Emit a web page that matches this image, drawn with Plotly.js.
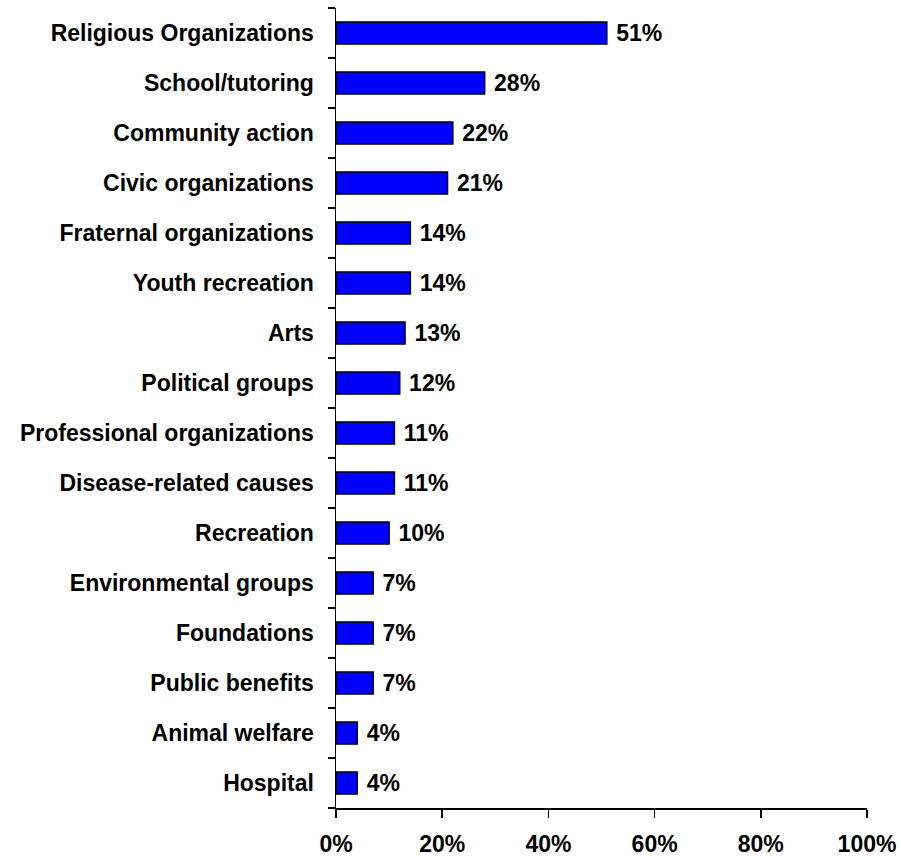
<!DOCTYPE html>
<html><head><meta charset="utf-8">
<script src="https://cdn.plot.ly/plotly-3.0.1.min.js"></script>
<style>html,body{margin:0;padding:0;background:#fff}#chart{width:901px;height:857px}</style>
</head><body><div id="chart"></div>
<script>
const categories = ["Religious Organizations","School/tutoring","Community action","Civic organizations","Fraternal organizations","Youth recreation","Arts","Political groups","Professional organizations","Disease-related causes","Recreation","Environmental groups","Foundations","Public benefits","Animal welfare","Hospital"];
const values = [51,28,22,21,14,14,13,12,11,11,10,7,7,7,4,4];
const xTickVals = [0,20,40,60,80,100];
const xTickText = ["0%","20%","40%","60%","80%","100%"];

const fam = "Arial, Liberation Sans, sans-serif";
const font = {family: fam, size: 23, color: "#000"};
const barFont = {family: fam, size: 23, color: "#000"};
const trace = {
  type: "bar", orientation: "h",
  y: categories, x: values,
  width: 0.44,
  marker: {color: "#0000FF", line: {color: "#000", width: 1.5}},
  text: values.map(v => "<b>\u00A0" + v + "%</b>"),
  textposition: "outside",
  constraintext: "none",
  textfont: barFont,
  cliponaxis: false,
  hoverinfo: "none"
};
const layout = {
  width: 901, height: 857,
  margin: {l: 336, r: 34, t: 8, b: 49},
  paper_bgcolor: "#fff", plot_bgcolor: "#fff",
  showlegend: false,
  font: font,
  xaxis: {
    range: [0, 100], tickvals: xTickVals, ticktext: xTickText.map(t => "<b>" + t + "</b>"),
    showgrid: false, zeroline: false, showline: true, linecolor: "#000", linewidth: 1.5,
    ticks: "outside", ticklen: 8, tickwidth: 1.5, tickcolor: "#000",
    ticklabelstandoff: 7, tickfont: font, fixedrange: true
  },
  yaxis: {
    type: "category", autorange: "reversed",
    tickvals: categories, ticktext: categories.map(c => "<b>" + c + "</b>"),
    showgrid: false, zeroline: false, showline: true, linecolor: "#000", linewidth: 1.5,
    ticks: "outside", tickson: "boundaries", ticklen: 7, tickwidth: 1.5, tickcolor: "#000",
    ticklabelstandoff: 16, tickfont: font, fixedrange: true
  }
};
Plotly.newPlot("chart", [trace], layout, {displayModeBar: false, staticPlot: true});
</script></body></html>
